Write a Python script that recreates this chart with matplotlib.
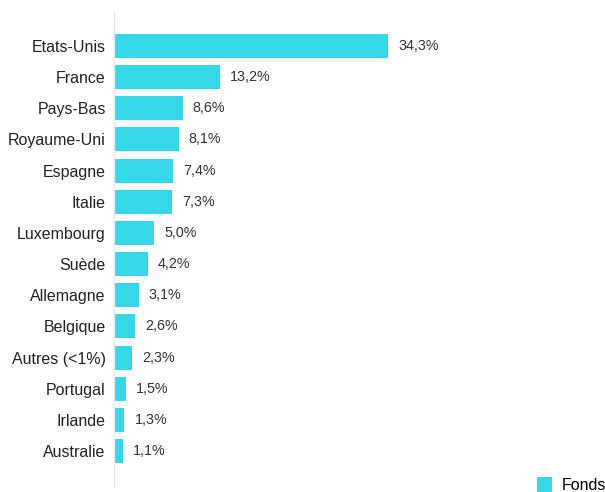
import matplotlib
matplotlib.use("Agg")
import matplotlib.pyplot as plt
from matplotlib.patches import Patch

categories = ["Etats-Unis", "France", "Pays-Bas", "Royaume-Uni", "Espagne", "Italie",
              "Luxembourg", "Suède", "Allemagne", "Belgique", "Autres (<1%)",
              "Portugal", "Irlande", "Australie"]
values = [34.3, 13.2, 8.6, 8.1, 7.4, 7.3, 5.0, 4.2, 3.1, 2.6, 2.3, 1.5, 1.3, 1.1]
series_name = "Fonds"

color = "#36D7E9"
plt.rcParams['font.family'] = ['Liberation Sans', 'DejaVu Sans']

fig = plt.figure(figsize=(6.05, 4.92), dpi=100)
ax = fig.add_axes([114/605, 5/492, (600-114)/605, (487-12)/492])

ypos = list(range(len(categories)))
ax.barh(ypos, values, height=0.77, color=color, edgecolor='none')
for y, v in zip(ypos, values):
    ax.text(v + 1.25, y, f"{v:.1f}".replace('.', ',') + "%", va='center', ha='left',
            fontsize=10.3, color='#333333')

ax.set_yticks(ypos)
ax.set_yticklabels(categories, fontsize=11.5, color='#222222')
ax.tick_params(axis='y', length=0, pad=6)
ax.set_xticks([])
ax.set_xlim(0, 60.8)
ax.set_ylim(14.15, -1.09)
for s in ['top', 'right', 'bottom']:
    ax.spines[s].set_visible(False)
ax.spines['left'].set_color('#e6e6e6')
ax.spines['left'].set_linewidth(1)

handles = [Patch(facecolor=color, edgecolor='none', label=series_name)]
fig.legend(handles=handles, loc='lower right', bbox_to_anchor=(1.009, -0.012), frameon=False,
           fontsize=11.5, handlelength=1.0, handleheight=1.0, handletextpad=0.55,
           borderaxespad=0.0, borderpad=0.3)

fig.savefig("out.png", dpi=100)
